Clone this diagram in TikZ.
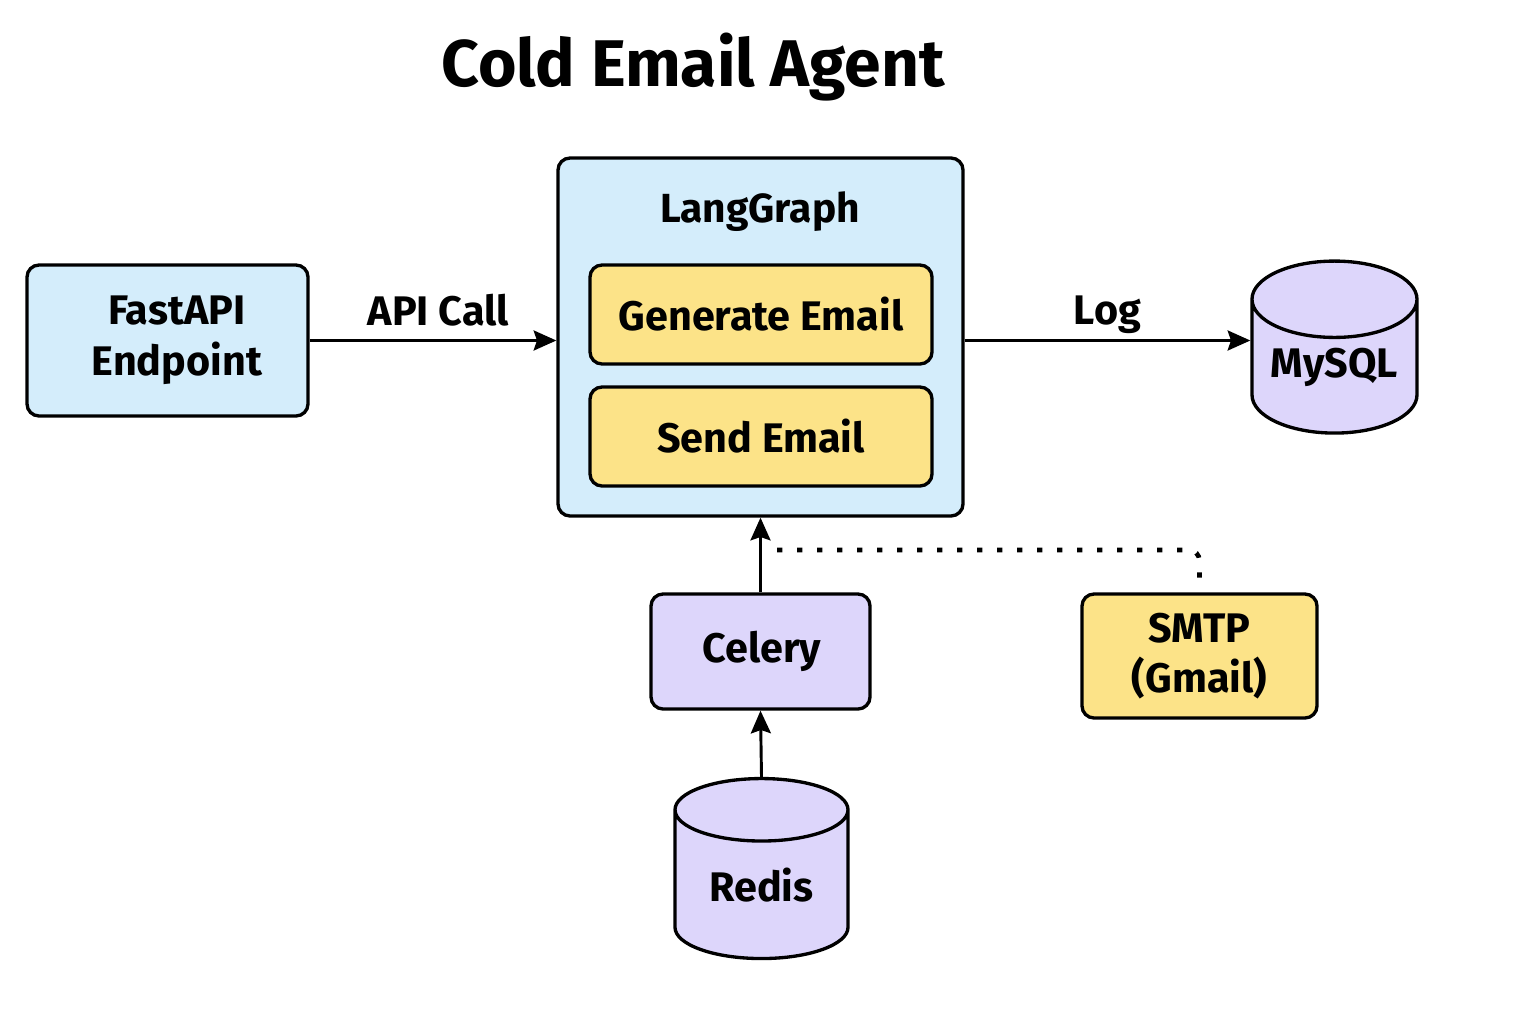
\documentclass[tikz,border=0pt]{standalone}
\usepackage{fontspec}
\setmainfont{Fira Sans}
\usetikzlibrary{shapes.geometric,arrows.meta}
\definecolor{agentblue}{RGB}{212,237,251}
\definecolor{agentyellow}{RGB}{252,227,136}
\definecolor{agentpurple}{RGB}{221,214,251}
\begin{document}
\begin{tikzpicture}[x=0.75pt,y=0.75pt,yscale=-1,xscale=1,
  box/.style={draw,line width=2.5pt,rounded corners=9pt,inner sep=0pt,align=center,font=\fontsize{31}{38}\selectfont\bfseries},
  dbase/.style={cylinder,shape border rotate=90,aspect=0.6,draw,line width=2.5pt,inner sep=0pt,cylinder uses custom fill,cylinder body fill=agentpurple,cylinder end fill=agentpurple,font=\fontsize{31}{38}\selectfont\bfseries},
  flow/.style={line width=2.2pt,-{Stealth[length=17pt,width=15pt,inset=2.5pt]}},
  dotline/.style={line width=3.5pt,dash pattern={on 4pt off 11pt},rounded corners=8pt}]
\useasboundingbox (0,0) rectangle (1536,1024);

% Title
\node (title) at (693,67) {\fontsize{49.5}{54}\selectfont\bfseries Cold Email Agent};

%Shape: Rectangle [FastAPI]
\node [box,fill=agentblue,minimum width=210.75pt,minimum height=113.25pt] (fastapi) at (167.5,340.5) {\hspace*{14pt}FastAPI\\\hspace*{14pt}Endpoint};
%Shape: Rectangle [LangGraph]
\node [box,fill=agentblue,minimum width=303.75pt,minimum height=268.5pt] (langgraph) at (760.5,337) {};
% Text Node
\node [font=\fontsize{30.5}{34}\selectfont\bfseries] (lgtitle) at (760,212) {LangGraph};
\node [box,fill=agentyellow,minimum width=256.5pt,minimum height=74.25pt] (generate) at (761,314.5) {Generate Email};
\node [box,fill=agentyellow,minimum width=256.5pt,minimum height=74.25pt] (send) at (761,436.5) {Send Email};

%Shape: Can [MySQL]
\node [dbase,minimum width=123.75pt,minimum height=129pt] (mysql) at (1334.5,367) {MySQL};
%Shape: Rectangle [Celery]
\node [box,fill=agentpurple,minimum width=164.25pt,minimum height=86.25pt] (celery) at (760.5,651.5) {\hspace*{2pt}Celery};
%Shape: Can [Redis]
\node [dbase,minimum width=129.75pt,minimum height=135pt] (redis) at (761.5,885) {Redis};
%Shape: Rectangle [SMTP]
\node [box,fill=agentyellow,minimum width=176.25pt,minimum height=93pt,font=\fontsize{31}{37}\selectfont\bfseries] (smtp) at (1199.5,656) {SMTP\\(Gmail)};

%Straight Lines
\draw [flow] (fastapi.east) -- (fastapi.east -| langgraph.west) node [midway,above=6pt,xshift=4pt,font=\fontsize{31}{34}\selectfont\bfseries] (apicall) {API Call};
\draw [flow] (fastapi.east -| langgraph.east) -- (fastapi.east -| mysql.west) node [midway,above=1pt,font=\fontsize{31}{34}\selectfont\bfseries] (log) {Log};
\draw [flow] (celery.north) -- (langgraph.south);
\draw [flow] (redis.north) -- (celery.south);

%Dotted Lines
\coordinate (tap) at (774,550);
\draw [dotline,shorten <=11pt] (smtp.north) |- (tap);

\end{tikzpicture}
\end{document}
